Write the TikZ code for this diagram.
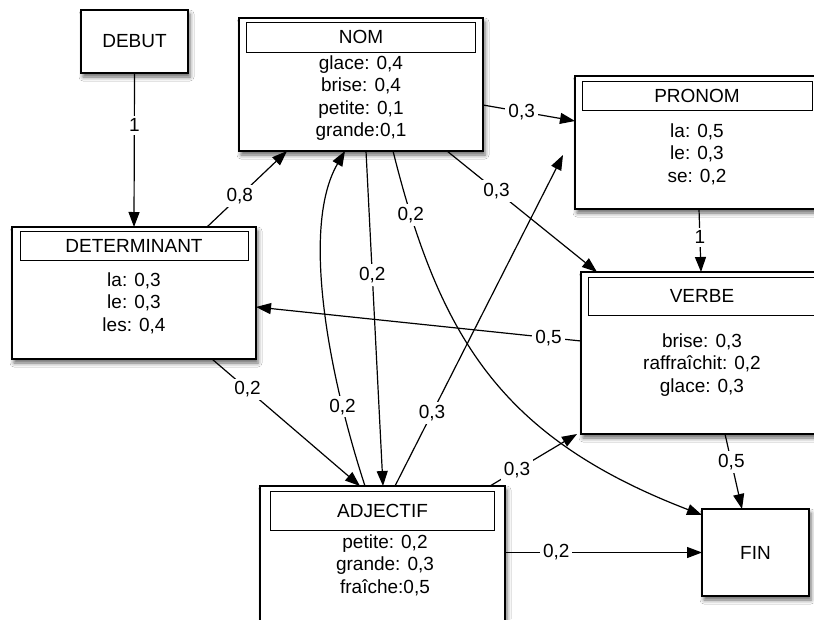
\documentclass[tikz,border=0pt]{standalone}
\usepackage{fontspec}
\setmainfont{Liberation Sans}
\usetikzlibrary{positioning,arrows.meta,shadows.blur}

\tikzset{
  catbox/.style={draw,line width=1.5pt,fill=white,inner sep=0pt,outer sep=0pt,
    blur shadow={shadow xshift=2pt,shadow yshift=-4pt,shadow blur radius=4pt,shadow opacity=60}},
  headbox/.style={draw,line width=1pt,fill=white,inner sep=0pt,outer sep=0pt},
  words/.style={align=center,inner sep=0pt},
  arc/.style={-{Triangle[length=15pt,width=11pt]},line width=1.2pt},
  prob/.style={fill=white,inner sep=3pt}
}

\begin{document}
\begin{tikzpicture}[x=1pt,y=-1pt,font=\fontsize{19}{22.5}\selectfont]
  \clip (0,0) rectangle (814,619);
  \fill[white] (0,0) rectangle (814,619);

  % categories
  \node[catbox,minimum width=107pt,minimum height=63pt] (Debut) at (134.5,41.5) {DEBUT};
  \node[catbox,minimum width=244pt,minimum height=133pt] (Nom) at (361,84.5) {};
  \node[catbox,minimum width=244pt,minimum height=133pt] (Pronom) at (697,142.5) {};
  \node[catbox,minimum width=244pt,minimum height=132pt] (Det) at (134,293) {};
  \node[catbox,minimum width=242pt,minimum height=162pt] (Verbe) at (702,353) {};
  \node[catbox,minimum width=245pt,minimum height=164pt] (Adj) at (382.5,568) {};
  \node[catbox,minimum width=107pt,minimum height=87pt] (Fin) at (755.5,552.5) {FIN};

  % headers
  \node[headbox,minimum width=229pt,minimum height=30pt,below=4pt of Nom.north] (NomHead) {NOM};
  \node[headbox,minimum width=230pt,minimum height=29pt,below=5pt of Pronom.north] (PronomHead) {PRONOM};
  \node[headbox,minimum width=228pt,minimum height=29pt,below=4pt of Det.north] (DetHead) {DETERMINANT};
  \node[headbox,minimum width=228pt,minimum height=38pt,below=5pt of Verbe.north] (VerbeHead) {VERBE};
  \node[headbox,minimum width=224pt,minimum height=39pt,below=5pt of Adj.north] (AdjHead) {ADJECTIF};

  % word probabilities
  \node[words] (NomWords) at (361,98) {glace: 0,4\\brise: 0,4\\petite: 0,1\\grande:0,1};
  \node[words] (PronomWords) at (697,154) {la: 0,5\\le: 0,3\\se: 0,2};
  \node[words] (DetWords) at (134,303) {la: 0,3\\le: 0,3\\les: 0,4};
  \node[words] (VerbeWords) at (702,365) {brise: 0,3\\raffraîchit: 0,2\\glace: 0,3};
  \node[words] (AdjWords) at (385,565) {petite: 0,2\\grande: 0,3\\fraîche:0,5};

  % transitions
  \path[arc] (Debut.south) edge node[prob,pos=.34] {1} (Det.north)
             ([xshift=73pt]Det.north) edge node[prob,pos=.41] {0,8} ([xshift=-74pt]Nom.south)
             ([yshift=-20.5pt]Nom.east) edge node[prob,pos=.42] {0,3} ([yshift=21.5pt]Pronom.west)
             ([xshift=86pt]Nom.south) edge node[prob,pos=.33] {0,3} ([xshift=-105pt]Verbe.north)
             ([xshift=5pt]Nom.south) edge node[prob,pos=.37] {0,2} ([xshift=0.5pt]Adj.north)
             ([yshift=12pt]Verbe.west) edge node[prob,pos=.1] {0,5} ([yshift=-14pt]Det.east)
             ([xshift=78pt]Det.south) edge node[prob,pos=.24] {0,2} ([xshift=-22.5pt]Adj.north)
             ([xshift=12.5pt]Adj.north) edge node[prob,pos=.22] {0,3} ([xshift=-12pt,yshift=-12.5pt]Pronom.west)
             ([xshift=107.5pt]Adj.north) edge node[prob,pos=.31] {0,3} ([xshift=-4pt]Verbe.south west)
             (Adj.east |- Fin.west) edge node[prob,pos=.26] {0,2} (Fin.west)
             ([xshift=2pt]Pronom.south) edge node[prob,pos=.45] {1} ([xshift=-1pt]Verbe.north)
             ([xshift=23pt]Verbe.south) edge node[prob,pos=.375] {0,5} ([xshift=-13.5pt]Fin.north);
  \draw[arc] ([xshift=32pt]Nom.south) .. controls +(47,188) and +(-200,-77) .. node[prob,pos=.12] {0,2} ([yshift=-6pt]Fin.north west);
  \draw[arc] ([xshift=-17.5pt]Adj.north) .. controls +(-35,-107) and +(-45,77) .. node[prob,pos=.23] {0,2} ([xshift=-16pt]Nom.south);
\end{tikzpicture}
\end{document}
